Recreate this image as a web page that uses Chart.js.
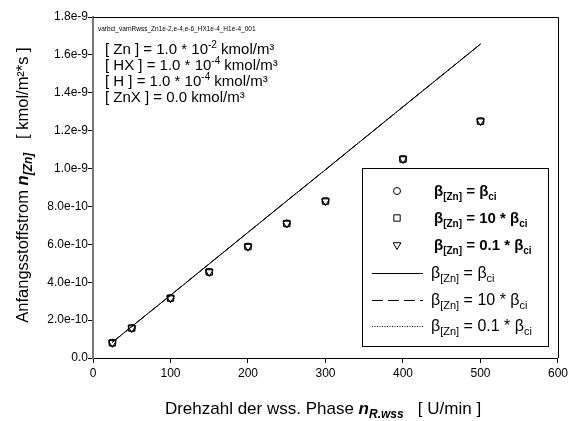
<!DOCTYPE html>
<html>
<head>
<meta charset="utf-8">
<script src="https://cdn.jsdelivr.net/npm/chart.js@4.4.0/dist/chart.umd.min.js"></script>
<style>
  html, body { margin: 0; padding: 0; background: #fff; }
</style>
</head>
<body>
<canvas id="fluxChart" width="571" height="421"></canvas>
<script>
// rotation speed of the aqueous phase [U/min]
const rpm = [25, 50, 100, 150, 200, 250, 300, 400, 500];

// measured initial Zn flux [kmol/m2*s] for the three mass transfer coefficients
const fluxBetaEqual = [0.80e-10, 1.58e-10, 3.16e-10, 4.54e-10, 5.88e-10, 7.10e-10, 8.28e-10, 10.50e-10, 12.50e-10];
const fluxBetaTimes10 = [0.80e-10, 1.58e-10, 3.16e-10, 4.54e-10, 5.88e-10, 7.10e-10, 8.28e-10, 10.50e-10, 12.50e-10];
const fluxBetaTimes01 = [0.80e-10, 1.58e-10, 3.16e-10, 4.54e-10, 5.88e-10, 7.10e-10, 8.28e-10, 10.50e-10, 12.50e-10];

// model curves
const modelBetaEqual = [0.83e-10, 1.66e-10, 3.31e-10, 4.97e-10, 6.63e-10, 8.29e-10, 9.94e-10, 13.26e-10, 16.57e-10];
const modelBetaTimes10 = [0.83e-10, 1.66e-10, 3.31e-10, 4.97e-10, 6.63e-10, 8.29e-10, 9.94e-10, 13.26e-10, 16.57e-10];
const modelBetaTimes01 = [0.83e-10, 1.66e-10, 3.31e-10, 4.97e-10, 6.63e-10, 8.29e-10, 9.94e-10, 13.26e-10, 16.57e-10];

const yTickValues = [0, 2e-10, 4e-10, 6e-10, 8e-10, 10e-10, 12e-10, 14e-10, 16e-10, 18e-10];
const yTickLabels = ["0.0", "2.0e-10", "4.0e-10", "6.0e-10", "8.0e-10", "1.0e-9", "1.2e-9", "1.4e-9", "1.6e-9", "1.8e-9"];

const FONT = '"Liberation Sans", Arial, sans-serif';

function toPoints(xs, ys) {
  return xs.map((x, i) => ({ x: x, y: ys[i] }));
}

// text made of pieces, each with its own font and vertical shift
function measureRich(ctx, parts) {
  let w = 0;
  parts.forEach((p) => {
    ctx.font = p.font;
    w += ctx.measureText(p.t).width;
  });
  return w;
}

function drawRich(ctx, x, y, parts) {
  let cx = x;
  parts.forEach((p) => {
    ctx.font = p.font;
    ctx.fillText(p.t, cx, y + (p.dy || 0));
    cx += ctx.measureText(p.t).width;
  });
  return cx;
}

function betaParts(size, bold, rhs) {
  const w = bold ? "bold " : "";
  const main = w + size + "px " + FONT;
  const sub = w + Math.round(size * 0.68) + "px " + FONT;
  return [
    { t: "β", font: main },
    { t: "[Zn]", font: sub, dy: 4 },
    { t: rhs, font: main },
    { t: "β", font: main },
    { t: "ci", font: sub, dy: 4 }
  ];
}

const decorations = {
  id: "decorations",
  afterDraw(chart) {
    const ctx = chart.ctx;
    const area = chart.chartArea;
    ctx.save();
    ctx.fillStyle = "#000";
    ctx.textAlign = "left";
    ctx.textBaseline = "alphabetic";

    // frame on top and right
    ctx.strokeStyle = "#000";
    ctx.lineWidth = 1;
    ctx.beginPath();
    ctx.moveTo(area.left, area.top + 0.5);
    ctx.lineTo(area.right + 0.5, area.top + 0.5);
    ctx.lineTo(area.right + 0.5, area.bottom);
    ctx.stroke();

    // file tag
    ctx.font = "6.5px " + FONT;
    ctx.fillText("varbci_varnRwss_Zn1e-2,e-4,e-6_HX1e-4_H1e-4_001", 98, 31);

    // concentrations
    const f = "15px " + FONT;
    const sup = "10px " + FONT;
    drawRich(ctx, 105, 54, [
      { t: "[ Zn ] = 1.0 * 10", font: f },
      { t: "-2", font: sup, dy: -6 },
      { t: " kmol/m³", font: f }
    ]);
    drawRich(ctx, 105, 70, [
      { t: "[ HX ] = 1.0 * 10", font: f },
      { t: "-4", font: sup, dy: -6 },
      { t: " kmol/m³", font: f }
    ]);
    drawRich(ctx, 105, 86, [
      { t: "[ H ] = 1.0 * 10", font: f },
      { t: "-4", font: sup, dy: -6 },
      { t: " kmol/m³", font: f }
    ]);
    drawRich(ctx, 105, 102, [{ t: "[ ZnX ] = 0.0 kmol/m³", font: f }]);

    // legend box
    const lx = 362, ly = 168, lw = 186, lh = 178;
    ctx.fillStyle = "#fff";
    ctx.fillRect(lx, ly, lw, lh);
    ctx.strokeStyle = "#000";
    ctx.strokeRect(lx + 0.5, ly + 0.5, lw, lh);
    ctx.fillStyle = "#000";

    const rows = [191, 218, 245, 273, 300, 326];
    const markers = [
      { pointStyle: "circle", radius: 3.5, rotation: 0 },
      { pointStyle: "rect", radius: 4.5, rotation: 0 },
      { pointStyle: "triangle", radius: 4.5, rotation: 180 }
    ];
    ctx.lineWidth = 1;
    markers.forEach((m, i) => {
      ctx.fillStyle = "#fff";
      ctx.strokeStyle = "#000";
      Chart.helpers.drawPoint(ctx, { pointStyle: m.pointStyle, radius: m.radius, rotation: m.rotation, borderWidth: 1 }, 397, rows[i]);
    });
    const dashes = [[], [11, 5], [1, 1.5]];
    dashes.forEach((d, i) => {
      ctx.setLineDash(d);
      ctx.beginPath();
      ctx.moveTo(372, rows[i + 3] + 0.5);
      ctx.lineTo(423, rows[i + 3] + 0.5);
      ctx.stroke();
    });
    ctx.setLineDash([]);

    ctx.fillStyle = "#000";
    const rhs = [" = ", " = 10 * ", " = 0.1 * "];
    rhs.forEach((r, i) => {
      drawRich(ctx, 434, rows[i] + 5, betaParts(15, true, r));
    });
    rhs.forEach((r, i) => {
      drawRich(ctx, 431, rows[i + 3] + 5, betaParts(16, false, r));
    });

    // x axis title
    const xt = [
      { t: "Drehzahl der wss. Phase ", font: "17px " + FONT },
      { t: "n", font: "bold italic 17px " + FONT },
      { t: "R.wss", font: "bold italic 12px " + FONT, dy: 4 },
      { t: "   [ U/min ]", font: "17px " + FONT }
    ];
    const xw = measureRich(ctx, xt);
    drawRich(ctx, 323 - xw / 2, 414, xt);

    // y axis title
    const yt = [
      { t: "Anfangsstoffstrom ", font: "16.5px " + FONT },
      { t: "n", font: "bold italic 16.5px " + FONT },
      { t: "[Zn]", font: "bold italic 12px " + FONT, dy: 4 },
      { t: "   [ kmol/m²*s ]", font: "16.5px " + FONT }
    ];
    const yw = measureRich(ctx, yt);
    ctx.translate(28, 185);
    ctx.rotate(-Math.PI / 2);
    drawRich(ctx, -yw / 2, 0, yt);
    ctx.restore();
  }
};

function markerSet(label, data, style, rotation, radius) {
  return {
    label: label,
    data: toPoints(rpm, data),
    showLine: false,
    pointStyle: style,
    rotation: rotation,
    pointRadius: radius,
    pointBackgroundColor: "rgba(255,255,255,0)",
    pointBorderColor: "#000",
    pointBorderWidth: 1
  };
}

function lineSet(label, data, dash) {
  return {
    label: label,
    data: toPoints(rpm, data),
    showLine: true,
    borderColor: "#000",
    borderWidth: 1,
    borderDash: dash,
    pointRadius: 0,
    fill: false,
    tension: 0
  };
}

new Chart(document.getElementById("fluxChart"), {
  type: "scatter",
  data: {
    datasets: [
      lineSet("model 0.1", modelBetaTimes01, [1, 1.5]),
      lineSet("model 10", modelBetaTimes10, [11, 5]),
      lineSet("model 1", modelBetaEqual, []),
      markerSet("beta 1", fluxBetaEqual, "circle", 0, 3.5),
      markerSet("beta 10", fluxBetaTimes10, "rect", 0, 4.5),
      markerSet("beta 0.1", fluxBetaTimes01, "triangle", 180, 4.5)
    ]
  },
  options: {
    responsive: false,
    animation: false,
    layout: { padding: { top: 17, right: 9, left: 0, bottom: 0 } },
    plugins: {
      legend: { display: false },
      tooltip: { enabled: false }
    },
    scales: {
      x: {
        type: "linear",
        min: 0,
        max: 600,
        ticks: { stepSize: 100, color: "#000", font: { family: FONT, size: 12 }, padding: 3, maxRotation: 0 },
        grid: { drawOnChartArea: false, drawTicks: true, tickLength: 5, color: "#000" },
        border: { color: "#000", width: 1 },
        afterFit(scale) { scale.height = 63; }
      },
      y: {
        type: "linear",
        min: 0,
        max: 1.8e-9,
        afterBuildTicks(scale) {
          scale.ticks = yTickValues.map((v) => ({ value: v }));
        },
        ticks: {
          color: "#000",
          font: { family: FONT, size: 12 },
          padding: 0,
          callback: (value, index) => yTickLabels[index]
        },
        grid: { drawOnChartArea: false, drawTicks: true, tickLength: 5, color: "#000" },
        border: { color: "#777", width: 2 },
        afterFit(scale) { scale.width = 93; }
      }
    }
  },
  plugins: [decorations]
});
</script>
</body>
</html>
